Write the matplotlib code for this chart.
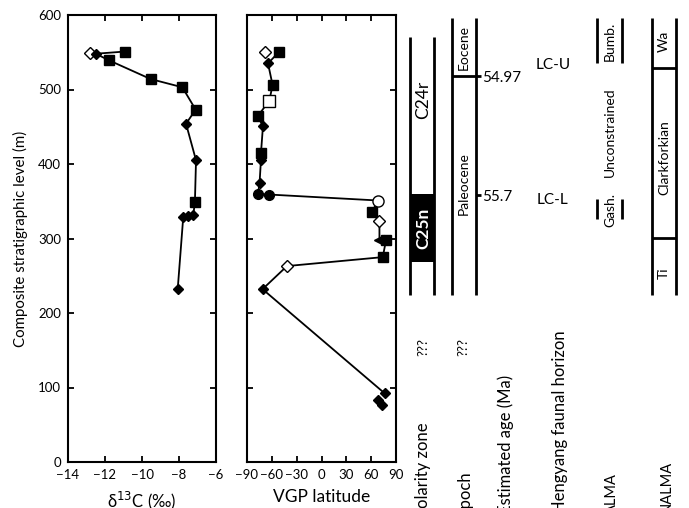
import matplotlib
matplotlib.use("Agg")
import matplotlib.pyplot as plt
from matplotlib.patches import Rectangle

plt.rcParams['font.family'] = ['Lato', 'DejaVu Sans']

# ---------------- data ----------------
# delta 13C panel
c_level = [551, 549, 548, 539, 514, 503, 473, 454, 405, 349, 331, 330, 329, 232]
c_value = [-10.9, -12.8, -12.5, -11.77, -9.53, -7.82, -7.1, -7.62, -7.08, -7.14, -7.23, -7.5, -7.77, -8.07]
c_marker = ['s', 'Do', 'D', 's', 's', 's', 's', 'D', 'D', 's', 'D', 'D', 'D', 'D']
c_line = [True, False, True, True, True, True, True, True, True, True, True, True, True, True]

# VGP latitude panel
v_level = [551, 550, 535, 506, 485, 464, 451, 415, 406, 375, 360, 359, 351, 335, 323, 298, 298, 275, 263, 232, 92, 83, 77]
v_lat = [-67.9, -51.8, -64.6, -59.1, -63.0, -77.2, -70.7, -73.1, -73.1, -74.8, -76.7, -63.0, 68.5, 60.5, 70.0, 70.0, 78.0, 74.0, -41.7, -71.2, 76.5, 68.0, 72.5]
v_marker = ['Do', 's', 'D', 's', 'so', 's', 'D', 's', 'D', 'D', 'o', 'o', 'oo', 's', 'Do', '<', 's', 's', 'Do', 'D', 'D', 'D', 'D']
v_line = [False, True, True, True, True, True, True, True, True, True, True, True, True, True, True, True, True, True, True, True, True, False, False]

# stratigraphic columns (levels in m)
polarity_range = (224, 570)
c25n_range = (268, 360)
epoch_range = (224, 596)
eocene_base = 518
age_ticks = [518, 358]
age_labels = ['54.97', '55.7']
hengyang_labels = ['LC-U', 'LC-L']
hengyang_levels = [533, 352]
alma_bars = [(535, 596), (326, 353)]
alma_labels = ['Bumb.', 'Unconstrained', 'Gash.']
alma_label_levels = [564, 443, 338]
nalma_range = (224, 596)
nalma_bounds = [529, 301]
nalma_labels = ['Wa', 'Clarkforkian', 'Ti']
nalma_label_levels = [564, 408, 253]

W, H = 689, 508
fig = plt.figure(figsize=(W / 100, H / 100), dpi=100)

def pos(x0, x1, y0=15, y1=462):
    return [x0 / W, 1 - y1 / H, (x1 - x0) / W, (y1 - y0) / H]

ax1 = fig.add_axes(pos(68, 216))
ax2 = fig.add_axes(pos(247, 396))
ax3 = fig.add_axes(pos(395, 689))

def draw_markers(ax, xs, ys, ms):
    for x, y, m in zip(xs, ys, ms):
        if m == 's':
            ax.plot(x, y, 's', color='black', ms=7, zorder=3)
        elif m == 'so':
            ax.plot(x, y, 's', mfc='white', mec='black', mew=1.0, ms=8, zorder=3)
        elif m == 'D':
            ax.plot(x, y, 'D', color='black', ms=5.5, zorder=3)
        elif m == 'Do':
            ax.plot(x, y, 'D', mfc='white', mec='black', mew=1.0, ms=6.5, zorder=3)
        elif m == 'o':
            ax.plot(x, y, 'o', color='black', ms=7, zorder=3)
        elif m == 'oo':
            ax.plot(x, y, 'o', mfc='white', mec='black', mew=1.0, ms=8, zorder=3)
        elif m == '<':
            ax.plot(x, y, '<', color='black', ms=7, zorder=3)

# panel 1
lx = [v for v, f in zip(c_value, c_line) if f]
ly = [v for v, f in zip(c_level, c_line) if f]
ax1.plot(lx, ly, color='black', lw=1.3, zorder=2)
draw_markers(ax1, c_value, c_level, c_marker)
ax1.set_xlim(-14, -6)
ax1.set_ylim(0, 600)
ax1.set_xticks([-14, -12, -10, -8, -6])
ax1.set_yticks([0, 100, 200, 300, 400, 500, 600])
ax1.set_xlabel('δ$^{13}$C (‰)', fontsize=12, labelpad=6)
ax1.set_ylabel('Composite stratigraphic level (m)', fontsize=10.8, labelpad=7)

# panel 2
lx = [v for v, f in zip(v_lat, v_line) if f]
ly = [v for v, f in zip(v_level, v_line) if f]
ax2.plot(lx, ly, color='black', lw=1.3, zorder=2)
draw_markers(ax2, v_lat, v_level, v_marker)
ax2.set_xlim(-90, 90)
ax2.set_ylim(0, 600)
ax2.set_xticks([-90, -60, -30, 0, 30, 60, 90])
ax2.set_yticks([0, 100, 200, 300, 400, 500, 600])
ax2.set_yticklabels([])
ax2.set_xlabel('VGP latitude', fontsize=12.5, labelpad=6)

for ax in (ax1, ax2):
    ax.tick_params(direction='in', top=True, right=True, length=4, width=1.3,
                   labelsize=9.5, pad=5)
    for s in ax.spines.values():
        s.set_linewidth(1.5)

# panel 3 : stratigraphic columns, x in pixel units
ax3.set_xlim(395, 689)
ax3.set_ylim(0, 600)
ax3.axis('off')
lw = 2.0
kw = dict(color='black', lw=lw, capstyle='butt', clip_on=False)

# polarity
ax3.vlines([410, 434], *polarity_range, **kw)
ax3.add_patch(Rectangle((410, c25n_range[0]), 24, c25n_range[1] - c25n_range[0],
                        facecolor='black', edgecolor='black', lw=0, clip_on=False))
ax3.text(423, 486, 'C24r', rotation=90, ha='center', va='center', fontsize=12.5)
ax3.text(423, 314, 'C25n', rotation=90, ha='center', va='center', fontsize=12.5,
         color='white', fontweight='bold')

# epoch
ax3.vlines([452, 476], *epoch_range, **kw)
ax3.hlines(eocene_base, 452, 476, **kw)
ax3.hlines(age_ticks, 476, 481, **kw)
for lv, lb in zip(age_ticks, age_labels):
    ax3.text(482, lv - 2, lb, ha='left', va='center', fontsize=11)
ax3.text(464, 556, 'Eocene', rotation=90, ha='center', va='center', fontsize=10)
ax3.text(464, 374, 'Paleocene', rotation=90, ha='center', va='center', fontsize=10)

# Hengyang
for lv, lb in zip(hengyang_levels, hengyang_labels):
    ax3.text(553, lv, lb, ha='center', va='center', fontsize=11)

# ALMA
for lo, hi in alma_bars:
    ax3.vlines([597, 622], lo, hi, **kw)
for lv, lb in zip(alma_label_levels, alma_labels):
    ax3.text(610, lv, lb, rotation=90, ha='center', va='center', fontsize=10)

# NALMA
ax3.vlines([652, 676], *nalma_range, **kw)
ax3.hlines(nalma_bounds, 652, 676, **kw)
for lv, lb in zip(nalma_label_levels, nalma_labels):
    ax3.text(664, lv, lb, rotation=90, ha='center', va='center', fontsize=10)

# bottom column titles (cut by the figure's lower edge, as in the original)
def lev(ypix):
    return (462 - ypix) / 0.745

ax3.text(423, lev(347), '???', rotation=90, ha='center', va='center', fontsize=9.5, clip_on=False)
ax3.text(463, lev(347), '???', rotation=90, ha='center', va='center', fontsize=9.5, clip_on=False)
titles = [(423, 422, 'Polarity zone', 12), (464, 470, 'Epoch', 12),
          (506, 375, 'Estimated age (Ma)', 12), (560, 330, 'Hengyang faunal horizon', 12),
          (612, 473, 'ALMA', 10.5), (667, 461, 'NALMA', 10.5)]
for x, ytop, t, fs in titles:
    ax3.text(x, lev(ytop), t, rotation=90, ha='center', va='top', fontsize=fs, clip_on=False)

fig.savefig('out.png', dpi=100)
